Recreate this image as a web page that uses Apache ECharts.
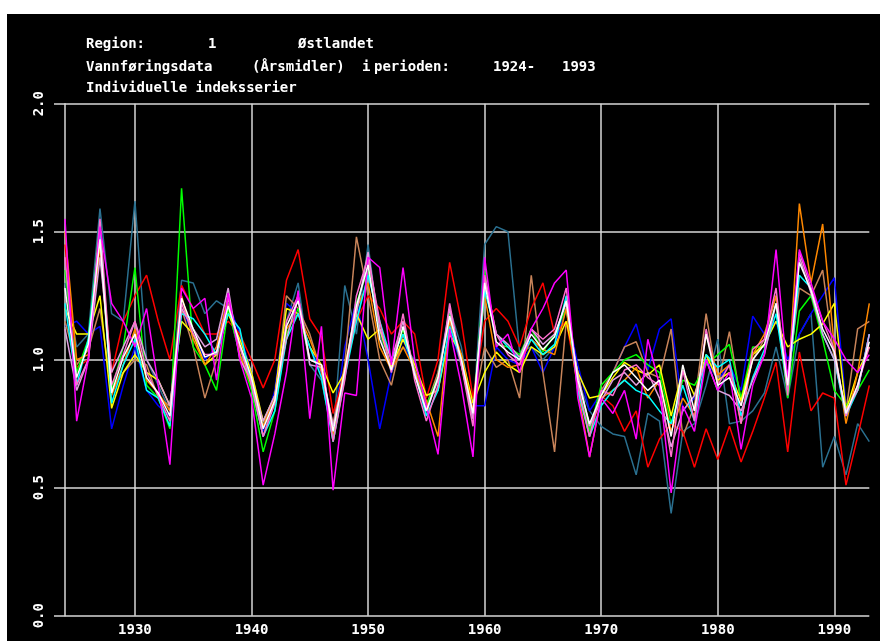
<!DOCTYPE html>
<html>
<head>
<meta charset="utf-8">
<script src="https://cdn.jsdelivr.net/npm/echarts@6/dist/echarts.min.js"></script>
<style>
html,body{margin:0;padding:0;background:#fff;width:880px;height:641px;overflow:hidden;}
#c{position:absolute;left:7px;top:14px;width:873px;height:627px;background:#000;}
</style>
</head>
<body>
<div id="c"></div>
<script>
const YEARS = [1924,1925,1926,1927,1928,1929,1930,1931,1932,1933,
1934,1935,1936,1937,1938,1939,1940,1941,1942,1943,
1944,1945,1946,1947,1948,1949,1950,1951,1952,1953,
1954,1955,1956,1957,1958,1959,1960,1961,1962,1963,
1964,1965,1966,1967,1968,1969,1970,1971,1972,1973,
1974,1975,1976,1977,1978,1979,1980,1981,1982,1983,
1984,1985,1986,1987,1988,1989,1990,1991,1992,1993];

const Y_TICKS = [0, 0.5, 1.0, 1.5, 2.0];

const TEAL = [1.30,1.05,1.10,1.59,1.18,1.15,1.62,1.00,0.90,0.80,
1.31,1.30,1.18,1.23,1.20,1.02,0.95,0.75,0.85,1.15,
1.30,0.98,0.92,0.70,1.29,1.10,1.45,1.10,0.95,1.05,
1.00,0.78,0.95,1.20,1.05,0.78,1.45,1.52,1.50,1.03,
1.05,1.00,1.05,1.20,0.92,0.80,0.74,0.71,0.70,0.55,
0.79,0.76,0.40,0.72,0.75,0.90,1.08,0.75,0.76,0.80,
0.87,1.05,0.85,1.10,1.18,0.58,0.70,0.55,0.75,0.68];

const BLUE = [1.13,1.15,1.10,1.13,0.73,0.90,1.05,0.88,0.82,0.78,
1.20,1.10,1.00,1.05,1.22,1.10,0.95,0.72,0.88,1.22,
1.18,1.05,0.95,0.72,1.05,1.23,1.00,0.73,0.95,1.08,
0.95,0.86,0.88,1.12,0.98,0.82,0.82,1.05,1.00,0.98,
1.05,0.95,1.05,1.20,0.98,0.80,0.87,0.95,1.05,1.14,
0.96,1.12,1.16,0.80,0.85,1.00,0.92,0.98,0.88,1.17,
1.10,1.15,1.00,1.10,1.18,1.25,1.32,0.82,0.88,1.10];

const TAN = [1.15,0.98,1.04,1.20,0.88,0.95,1.00,0.98,0.85,0.82,
1.20,1.05,0.85,1.00,1.22,1.05,0.92,0.70,0.85,1.25,
1.20,1.10,0.95,0.75,0.98,1.48,1.25,1.00,0.90,1.10,
0.96,0.82,0.95,1.15,0.98,0.80,1.05,0.97,1.00,0.85,
1.33,0.95,0.64,1.15,0.95,0.72,0.88,0.95,1.05,1.07,
0.95,0.93,1.12,0.70,0.82,1.18,0.90,1.11,0.83,1.00,
1.08,1.25,0.92,1.28,1.25,1.35,1.00,0.80,1.12,1.15];

const RED = [1.45,0.97,1.00,1.45,0.95,1.15,1.25,1.33,1.15,1.00,
1.29,1.20,1.10,1.10,1.15,1.10,1.00,0.89,1.00,1.31,
1.43,1.16,1.09,0.79,0.95,1.15,1.25,1.20,1.10,1.15,
1.10,0.85,1.00,1.38,1.15,0.85,1.15,1.20,1.15,1.05,
1.20,1.30,1.10,1.15,0.90,0.70,0.86,0.82,0.72,0.80,
0.58,0.69,0.75,0.72,0.58,0.73,0.61,0.74,0.60,0.72,
0.85,0.99,0.64,1.03,0.80,0.87,0.85,0.51,0.70,0.90];

const GREEN = [1.35,0.95,1.08,1.52,0.88,1.05,1.36,0.90,0.85,0.73,
1.67,1.05,0.98,0.88,1.20,1.02,0.88,0.64,0.80,1.10,
1.20,1.00,0.98,0.68,0.94,1.22,1.36,1.12,0.97,1.12,
0.96,0.82,0.93,1.18,0.99,0.77,1.35,1.06,1.05,1.02,
1.12,1.03,1.10,1.20,0.90,0.72,0.90,0.95,1.00,1.02,
0.98,0.95,0.75,0.92,0.90,0.98,1.02,1.06,0.85,1.05,
1.05,1.22,0.85,1.19,1.25,1.08,0.88,0.82,0.88,0.96];

const YELLOW = [1.20,1.10,1.10,1.25,0.81,0.95,1.02,0.95,0.92,0.82,
1.15,1.10,0.98,1.02,1.18,1.08,0.95,0.76,0.86,1.20,
1.18,1.05,0.98,0.87,0.95,1.18,1.08,1.12,0.97,1.08,
0.98,0.86,0.88,1.10,1.02,0.83,0.95,1.03,0.98,0.95,
1.05,1.02,1.05,1.15,0.95,0.85,0.86,0.93,0.99,0.96,
0.94,0.98,0.78,0.96,0.86,1.02,0.92,0.95,0.84,1.02,
1.06,1.15,1.05,1.08,1.10,1.14,1.22,0.80,0.95,1.05];

const ORANGE = [1.50,1.00,1.02,1.45,0.86,0.98,1.12,0.92,0.87,0.80,
1.25,1.08,0.98,1.05,1.25,1.02,0.90,0.74,0.86,1.12,
1.18,1.08,0.96,0.70,0.97,1.20,1.30,1.05,0.96,1.05,
0.96,0.84,0.70,1.16,1.02,0.80,1.25,1.00,0.97,0.98,
1.08,1.04,1.02,1.20,0.88,0.62,0.85,0.88,0.92,0.97,
0.85,0.92,0.72,0.85,0.78,1.10,0.94,0.98,0.75,1.02,
1.10,1.25,0.88,1.61,1.30,1.53,1.05,0.75,0.95,1.22];

const CYAN = [1.22,0.90,1.08,1.50,0.83,0.98,1.08,0.88,0.85,0.74,
1.18,1.16,1.10,1.02,1.18,1.12,0.90,0.70,0.80,1.08,
1.18,1.05,0.93,0.68,0.93,1.15,1.33,1.15,1.00,1.10,
0.95,0.78,0.88,1.13,1.00,0.77,1.27,1.10,1.05,1.00,
1.08,1.02,1.06,1.25,0.88,0.70,0.82,0.88,0.92,0.88,
0.86,0.80,0.75,0.90,0.76,1.02,0.97,1.00,0.78,0.93,
1.04,1.18,0.88,1.33,1.28,1.10,1.00,0.78,0.88,1.10];

const PLUM = [1.12,0.88,1.00,1.40,0.95,1.05,1.15,1.00,0.92,0.82,
1.20,1.12,1.05,1.08,1.28,1.00,0.92,0.76,0.86,1.08,
1.25,0.98,0.97,0.74,0.94,1.18,1.42,1.12,1.00,1.15,
0.95,0.80,0.92,1.20,0.98,0.77,1.32,1.10,1.06,1.01,
1.12,1.06,1.10,1.22,0.94,0.74,0.84,0.92,0.95,0.90,
0.95,0.85,0.66,0.80,0.86,1.00,0.88,0.86,0.80,0.92,
1.02,1.22,0.92,1.40,1.26,1.10,1.00,0.80,0.88,1.10];

const PINK = [1.40,0.90,1.00,1.55,0.90,1.02,1.15,0.95,0.86,0.76,
1.22,1.10,1.02,1.02,1.24,1.05,0.90,0.70,0.83,1.15,
1.25,1.00,0.98,0.68,0.92,1.25,1.40,1.15,0.95,1.18,
0.92,0.76,0.90,1.22,0.98,0.74,1.33,1.10,1.02,0.98,
1.12,1.08,1.12,1.28,0.90,0.70,0.88,0.86,0.96,0.98,
0.93,0.90,0.62,0.96,0.76,1.12,0.90,0.98,0.75,1.04,
1.08,1.28,0.86,1.42,1.28,1.15,1.04,0.78,0.90,1.05];

const MAGENTA = [1.55,0.76,1.00,1.52,1.22,1.15,1.05,1.20,0.90,0.59,
1.28,1.20,1.24,0.92,1.26,1.00,0.85,0.51,0.71,0.95,
1.27,0.77,1.13,0.49,0.87,0.86,1.40,1.36,0.98,1.36,
1.00,0.82,0.63,1.12,0.90,0.62,1.40,1.05,1.10,0.95,
1.12,1.20,1.30,1.35,0.85,0.62,0.85,0.79,0.88,0.69,
1.08,0.90,0.48,0.82,0.72,1.00,0.88,0.95,0.65,0.90,
1.02,1.43,0.92,1.43,1.30,1.15,1.08,1.00,0.95,1.02];

const WHITE = [1.28,0.93,1.06,1.47,0.87,1.01,1.10,0.93,0.87,0.78,
1.24,1.12,1.01,1.03,1.21,1.06,0.93,0.73,0.84,1.13,
1.23,1.00,0.98,0.72,0.96,1.21,1.37,1.08,0.96,1.13,
0.94,0.80,0.93,1.17,1.00,0.79,1.30,1.07,1.03,1.00,
1.10,1.04,1.09,1.23,0.92,0.75,0.86,0.95,0.98,0.93,
0.88,0.92,0.70,0.98,0.80,1.10,0.90,0.93,0.82,1.00,
1.06,1.22,0.90,1.38,1.27,1.12,1.03,0.79,0.90,1.07];

const SERIES = [
  ['teal', '#2a7090', TEAL],
  ['blue', '#0000ff', BLUE],
  ['tan', '#c8845a', TAN],
  ['red', '#ff0000', RED],
  ['green', '#00ff00', GREEN],
  ['yellow', '#ffff00', YELLOW],
  ['orange', '#ff8800', ORANGE],
  ['cyan', '#00ffff', CYAN],
  ['plum', '#e0a0e0', PLUM],
  ['pink', '#ff70d0', PINK],
  ['magenta', '#ff00ff', MAGENTA],
  ['white', '#ffffff', WHITE]
];

const FONT = 'DejaVu Sans Mono';
const TFONT = 'bold 14px "DejaVu Sans Mono"';
const chart = echarts.init(document.getElementById('c'), null, {renderer: 'canvas'});

const isDecade = (i, v) => Number(v) % 10 === 0;
const txt = (x, y, s) => ({type: 'text', left: x, top: y, style: {text: s, fill: '#fff', font: TFONT}});

chart.setOption({
  backgroundColor: '#000',
  animation: false,
  graphic: [
    txt(79, 23, 'Region:'), txt(201, 23, '1'), txt(291, 23, 'Østlandet'),
    txt(79, 46, 'Vannføringsdata'), txt(245, 46, '(Årsmidler)'), txt(355, 46, 'i'),
    txt(367, 46, 'perioden:'), txt(486, 46, '1924-'), txt(555, 46, '1993'),
    txt(79, 67, 'Individuelle indeksserier')
  ],
  grid: {left: 58, right: 10.7, top: 89.7, height: 512, containLabel: false},
  xAxis: {
    type: 'category',
    data: YEARS,
    boundaryGap: false,
    axisLine: {show: false},
    axisTick: {show: false},
    axisLabel: {interval: isDecade, color: '#fff', fontFamily: FONT, fontWeight: 'bold', fontSize: 14, margin: 8},
    splitLine: {show: true, interval: isDecade, lineStyle: {color: '#d8d8d8', width: 1.5}}
  },
  yAxis: {
    type: 'value',
    min: Y_TICKS[0],
    max: Y_TICKS[Y_TICKS.length - 1],
    interval: 0.5,
    axisLine: {show: true, lineStyle: {color: '#d8d8d8', width: 1.5}},
    axisTick: {show: true, length: 11, lineStyle: {color: '#d8d8d8', width: 1.5}},
    axisLabel: {rotate: 90, color: '#fff', fontFamily: FONT, fontWeight: 'bold', fontSize: 14, margin: 19,
      formatter: v => v.toFixed(1)},
    splitLine: {show: true, lineStyle: {color: '#d8d8d8', width: 1.5}}
  },
  series: SERIES.map(([name, color, vals]) => ({
    name: name,
    type: 'line',
    data: vals,
    showSymbol: false,
    symbol: 'none',
    lineStyle: {color: color, width: 1.5},
    itemStyle: {color: color},
    emphasis: {disabled: true}
  }))
});
</script>
</body>
</html>
